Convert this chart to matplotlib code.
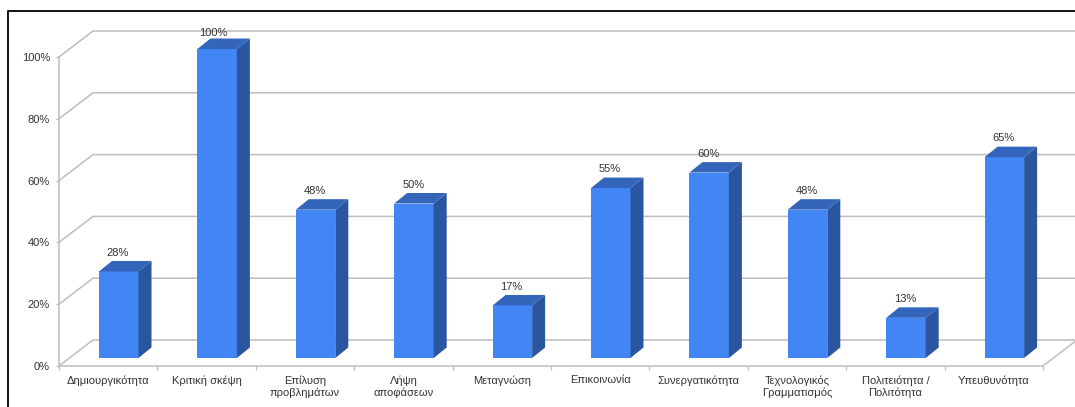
import matplotlib
matplotlib.use('Agg')
import matplotlib.pyplot as plt
from matplotlib.lines import Line2D
from matplotlib.patches import Polygon

plt.rcParams['font.family'] = ['Liberation Sans', 'DejaVu Sans']

categories = ['Δημιουργικότητα', 'Κριτική σκέψη', 'Επίλυση\nπροβλημάτων', 'Λήψη\nαποφάσεων',
              'Μεταγνώση', 'Επικοινωνία', 'Συνεργατικότητα', 'Τεχνολογικός\nΓραμματισμός',
              'Πολιτειότητα /\nΠολιτότητα', 'Υπευθυνότητα']
values = [28, 100, 48, 50, 17, 55, 60, 48, 13, 65]
y_ticks = [0, 20, 40, 60, 80, 100]

W, H = 1075, 407
# plot box of the front plane, in pixels
X0, X1 = 59, 1043
Y0, Y1 = 366, 57
PX = (X1 - X0)/len(categories)  # pixels per category
PY = (Y0 - Y1)/100              # pixels per percent

GRID = '#bdbdbd'
FRONT = '#4285f4'
SIDE = '#2a56a0'
TOP = '#3366bb'
TEXT = '#333333'

fig = plt.figure(figsize=(W/100, H/100), dpi=100, facecolor='white')
ax = fig.add_axes([X0/W, 1 - Y0/H, (X1 - X0)/W, (Y0 - Y1)/H])
ax.set_xlim(0, len(categories))
ax.set_ylim(0, 100)
ax.patch.set_visible(False)

# depth of the wall and of the bars
wall_dx, wall_dy = 34/PX, 26/PY
bar_dx, bar_dy = 13/PX, 10.5/PY
# bars stand a bit in from the front edge
bar_left, bar_w = 40/PX, 39.5/PX
bar_base = 8/PY

n = len(categories)
for v in y_ticks:
    ax.plot([0, wall_dx, n + wall_dx], [v, v + wall_dy, v + wall_dy],
            color=GRID, lw=1.1, clip_on=False, zorder=1, solid_joinstyle='miter')
# floor edge on the right
ax.plot([n, n + wall_dx], [0, wall_dy], color=GRID, lw=1.1, clip_on=False, zorder=1)

for i, v in enumerate(values):
    x0 = i + bar_left
    x1 = x0 + bar_w
    b = bar_base
    t = bar_base + v
    ax.add_patch(Polygon([(x0, b), (x1, b), (x1, t), (x0, t)], fc=FRONT, ec='none', zorder=3, clip_on=False))
    ax.add_patch(Polygon([(x1, b), (x1 + bar_dx, b + bar_dy), (x1 + bar_dx, t + bar_dy), (x1, t)],
                         fc=SIDE, ec='none', zorder=3, clip_on=False))
    ax.add_patch(Polygon([(x0, t), (x1, t), (x1 + bar_dx, t + bar_dy), (x0 + bar_dx, t + bar_dy)],
                         fc=TOP, ec='none', zorder=3, clip_on=False))
    # the top label has no room above it, so it sits lower and to the left
    off = (-2.5, 11.5) if v == 100 else (-0.5, 13.5)
    ax.annotate('%d%%' % v, (x0 + bar_w/2, t), xytext=off, textcoords='offset points',
                ha='center', va='center', fontsize=8, color=TEXT, zorder=4, annotation_clip=False)

for s in ['top', 'right']:
    ax.spines[s].set_visible(False)
for s in ['left', 'bottom']:
    ax.spines[s].set_color(GRID)
    ax.spines[s].set_linewidth(1.1)

ax.set_yticks(y_ticks)
ax.set_yticklabels(['%d%%' % v for v in y_ticks], fontsize=8, color=TEXT)
ax.tick_params(axis='y', length=2, width=1, color=GRID, pad=4.5)

ax.set_xticks(range(n + 1))
ax.set_xticklabels([])
ax.set_xticks([i + 0.5 for i in range(n)], minor=True)
ax.set_xticklabels(categories, minor=True, fontsize=8, color=TEXT, linespacing=1.25)
ax.tick_params(axis='x', which='major', length=3, width=1, color=GRID)
ax.tick_params(axis='x', which='minor', length=0, pad=6.5)

# black frame of the screenshot
fig.add_artist(Line2D([7.5/W, 7.5/W, 1], [0, 1 - 11/H, 1 - 11/H], color='#111111', lw=1.4))

fig.savefig('out.png', dpi=100)
